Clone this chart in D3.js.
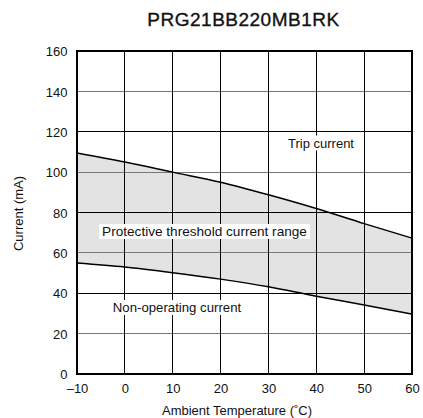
<!DOCTYPE html>
<html><head><meta charset="utf-8">
<script src="https://cdn.jsdelivr.net/npm/d3@7"></script>
<style>body{margin:0;background:#fff}svg{display:block}</style>
</head><body>
<script>
const title = "PRG21BB220MB1RK";
const temps = [-10, 0, 10, 20, 30, 40, 50, 60];
const tripCurrent = [109.5, 105, 100, 95, 88.8, 82, 74.5, 67.3];
const nonOperating = [55, 53, 50.2, 47, 43.2, 38.5, 34.2, 29.7];
const xTicks = [-10, 0, 10, 20, 30, 40, 50, 60];
const yTicks = [0, 20, 40, 60, 80, 100, 120, 140, 160];

const W = 423, H = 418;
const m = {l: 77, r: 11, t: 51, b: 44};
const svg = d3.select("body").append("svg").attr("width", W).attr("height", H);
const x = d3.scaleLinear().domain([-10, 60]).range([m.l, W - m.r]);
const y = d3.scaleLinear().domain([0, 160]).range([H - m.b, m.t]);
const font = "'Liberation Sans', Arial, sans-serif";

// band
const area = d3.area().x((d, i) => x(temps[i])).y0((d, i) => y(nonOperating[i])).y1(d => y(d)).curve(d3.curveMonotoneX);
svg.append("path").attr("d", area(tripCurrent)).attr("fill", "#e3e3e3");

// grid
svg.append("g").selectAll("line").data(yTicks.slice(1, -1)).join("line")
  .attr("x1", m.l).attr("x2", W - m.r).attr("y1", d => y(d)).attr("y2", d => y(d))
  .attr("stroke", d => (d / 20) % 2 === 1 ? "#777" : "#000").attr("stroke-width", 1.2)
  .attr("shape-rendering", "crispEdges");
svg.append("g").selectAll("line").data(xTicks.slice(1, -1)).join("line")
  .attr("y1", m.t).attr("y2", H - m.b).attr("x1", d => x(d)).attr("x2", d => x(d))
  .attr("stroke", "#000").attr("stroke-width", 1.2).attr("shape-rendering", "crispEdges");

// curves
const line = d3.line().x((d, i) => x(temps[i])).y(d => y(d)).curve(d3.curveMonotoneX);
[tripCurrent, nonOperating].forEach(s => svg.append("path").attr("d", line(s))
  .attr("fill", "none").attr("stroke", "#000").attr("stroke-width", 1.5));

// frame
svg.append("rect").attr("x", m.l).attr("y", m.t).attr("width", W - m.r - m.l).attr("height", H - m.b - m.t)
  .attr("fill", "none").attr("stroke", "#000").attr("stroke-width", 1.5).attr("shape-rendering", "crispEdges");

// axes
const xa = svg.append("g").attr("transform", `translate(0,${H - m.b})`)
  .call(d3.axisBottom(x).tickValues(xTicks).tickSize(0).tickPadding(9.5).tickFormat(d => d < 0 ? "\u2013" + Math.abs(d) : d));
const ya = svg.append("g").attr("transform", `translate(${m.l},0)`)
  .call(d3.axisLeft(y).tickValues(yTicks).tickSize(0).tickPadding(9.5));
[xa, ya].forEach(a => { a.select(".domain").remove(); a.selectAll("text").attr("font-family", font).attr("font-size", 13).attr("fill", "#111"); });
ya.selectAll("text").attr("dy", "0.36em");

// labels with white boxes
function boxLabel(txt, cx, base, size) {
  const g = svg.append("g");
  const t = g.append("text").attr("x", cx).attr("y", base).attr("text-anchor", "middle")
    .attr("font-family", font).attr("font-size", size).attr("fill", "#111").text(txt);
  const b = t.node().getBBox();
  g.insert("rect", "text").attr("x", b.x - 3).attr("y", b.y).attr("width", b.width + 6).attr("height", b.height).attr("fill", "#fff");
}
boxLabel("Trip current", 321, 147.5, 13);
boxLabel("Protective threshold current range", 204.5, 236, 13.6);
boxLabel("Non-operating current", 177, 312, 13.2);

svg.append("text").attr("x", 243.5).attr("y", 25.5).attr("text-anchor", "middle")
  .attr("font-family", font).attr("font-size", 19).attr("letter-spacing", 0.5)
  .attr("stroke", "#111").attr("stroke-width", 0.35)
  .attr("fill", "#111").text(title);
svg.append("text").attr("x", 237).attr("y", 415).attr("text-anchor", "middle")
  .attr("font-family", font).attr("font-size", 13).attr("fill", "#111").text("Ambient Temperature (\u02daC)");
svg.append("text").attr("transform", `translate(23,213.5) rotate(-90)`).attr("text-anchor", "middle")
  .attr("font-family", font).attr("font-size", 13).attr("fill", "#111").text("Current (mA)");
</script>
</body></html>
